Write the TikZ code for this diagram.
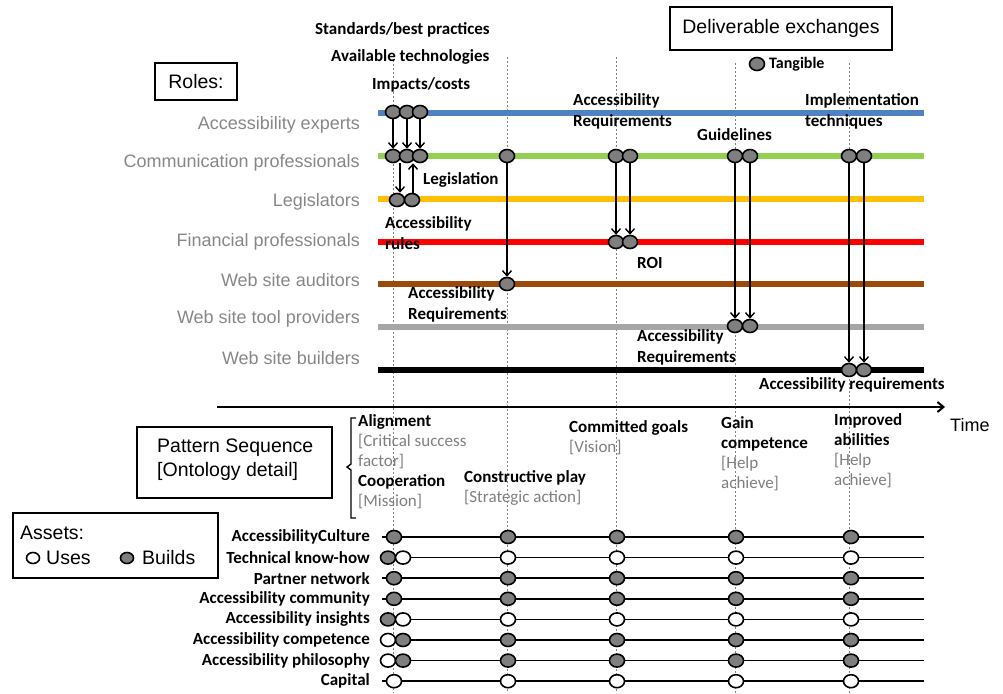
\documentclass[tikz,border=0pt]{standalone}
\usepackage{fontspec}
\setmainfont{Liberation Sans}
\newfontfamily\carl{Carlito}
\usetikzlibrary{shapes.geometric,arrows.meta}
\definecolor{rolegray}{HTML}{878787}
\definecolor{notegray}{HTML}{7F7F7F}
\definecolor{circgray}{HTML}{7F7F7F}
\definecolor{lblue}{HTML}{4F81C4}
\definecolor{lgreen}{HTML}{92D050}
\definecolor{lyellow}{HTML}{FFC000}
\definecolor{lred}{HTML}{FF0000}
\definecolor{lbrown}{HTML}{9C4A0C}
\definecolor{lgray}{HTML}{A6A6A6}
\tikzset{
  role/.style={anchor=east,inner sep=0pt,text=rolegray,font=\fontsize{18}{21}\selectfont},
  lbl/.style={anchor=west,inner sep=0pt,align=left,font=\carl\bfseries\fontsize{17}{21}\selectfont},
  pat/.style={anchor=west,inner sep=0pt,align=left,font=\carl\fontsize{17}{20}\selectfont},
  asl/.style={anchor=east,inner sep=0pt,font=\carl\bfseries\fontsize{17}{20}\selectfont},
  dlv/.style={ellipse,draw=black,line width=1.6pt,fill=circgray,minimum width=15pt,minimum height=13pt,inner sep=0pt},
  ause/.style={dlv,fill=white},
  arr/.style={-{Straight Barb[length=5pt,width=9pt]},line width=1.4pt},
  guide/.style={draw=gray,dash pattern=on 2pt off 2pt,line width=0.8pt},
  rline/.style={line width=6pt},
  aline/.style={line width=1.6pt},
  boxed/.style={draw=black,line width=1.5pt,inner sep=0pt},
  big/.style={font=\fontsize{19.5}{24}\selectfont}
}
\begin{document}
\begin{tikzpicture}[x=1pt,y=-1pt]
\useasboundingbox (0,0) rectangle (1003,693);
% guide lines
\draw[guide] (393,60) -- (393,693);
\draw[guide] (507,57) -- (507,693);
\draw[guide] (616,57) -- (616,693);
\draw[guide] (735,63) -- (735,693);
\draw[guide] (849,63) -- (849,693);
% role lines
\draw[rline,lblue] (378,113) -- (924,113);
\draw[rline,lgreen] (378,156) -- (924,156);
\draw[rline,lyellow] (378,199) -- (924,199);
\draw[rline,lred] (378,242) -- (924,242);
\draw[rline,lbrown] (378,284) -- (924,284);
\draw[rline,lgray] (378,327) -- (924,327);
\draw[rline,black] (378,370) -- (924,370);
% role labels
\node[role] (r1) at (360,125) {Accessibility experts};
\node[role] (r2) at (360,163) {Communication professionals};
\node[role] (r3) at (360,202) {Legislators};
\node[role] (r4) at (360,242) {Financial professionals};
\node[role] (r5) at (360,280) {Web site auditors};
\node[role] (r6) at (360,319) {Web site tool providers};
\node[role] (r7) at (360,358) {Web site builders};
% deliverables
\node[dlv] (e1) at (393,112) {};
\node[dlv] (e2) at (407,112) {};
\node[dlv] (e3) at (420,112) {};
\node[dlv] (c1) at (393,156) {};
\node[dlv] (c2) at (407,156) {};
\node[dlv] (c3) at (420,156) {};
\node[dlv] (c4) at (507,156) {};
\node[dlv] (c5) at (616,156) {};
\node[dlv] (c6) at (630,156) {};
\node[dlv] (c7) at (735,156) {};
\node[dlv] (c8) at (750,156) {};
\node[dlv] (c9) at (849,156) {};
\node[dlv] (c10) at (864,156) {};
\node[dlv] (l1) at (397,200) {};
\node[dlv] (l2) at (412,200) {};
\node[dlv] (f1) at (616,242) {};
\node[dlv] (f2) at (630,242) {};
\node[dlv] (a1) at (507,284) {};
\node[dlv] (t1) at (735,326) {};
\node[dlv] (t2) at (750,326) {};
\node[dlv] (b1) at (849,370) {};
\node[dlv] (b2) at (864,370) {};
% exchange arrows
\draw[arr] (e1) -- (c1);
\draw[arr] (e2) -- (c2);
\draw[arr] (e3) -- (c3);
\draw[arr] ([xshift=7pt]c1.south) -- ([xshift=3pt]l1.north);
\draw[arr] ([xshift=1pt]l2.north) -- ([xshift=-7pt]c3.south);
\draw[arr] (c4) -- (a1);
\draw[arr] (c5) -- (f1);
\draw[arr] (c6) -- (f2);
\draw[arr] (c7) -- (t1);
\draw[arr] (c8) -- (t2);
\draw[arr] (c9) -- (b1);
\draw[arr] (c10) -- (b2);
% deliverable labels
\node[lbl] (d1) at (315,30) {Standards/best practices};
\node[lbl] (d2) at (331,57) {Available technologies};
\node[lbl] (d3) at (372,85) {Impacts/costs};
\node[lbl] (d4) at (423,180) {Legislation};
\node[lbl] (d5) at (385,233) {Accessibility\\rules};
\node[lbl] (d6) at (408,304.5) {Accessibility\\Requirements};
\node[lbl] (d7) at (573,111) {Accessibility\\Requirements};
\node[lbl] (d8) at (697,135) {Guidelines};
\node[lbl] (d9) at (805,111) {Implementation\\techniques};
\node[lbl] (d10) at (637,263) {ROI};
\node[lbl] (d11) at (637,347) {Accessibility\\Requirements};
\node[lbl] (d12) at (759,385) {Accessibility requirements};
% boxes
\node[boxed,big,minimum width=222pt,minimum height=43pt] (dx) at (781,28.5) {Deliverable exchanges};
\node[dlv] (tg) at (757,64) {};
\node[lbl,font=\carl\bfseries\fontsize{16}{19}\selectfont] (tgl) at (769,64) {Tangible};
\node[boxed,big,minimum width=82pt,minimum height=37pt] (roles) at (196,81.5) {Roles:};
% time axis
\coordinate (t0) at (217,407);
\coordinate (t9) at (945,407);
\draw[line width=2pt,-{Straight Barb[length=6pt,width=10pt]}] (t0) -- (t9);
\node[anchor=west,inner sep=0pt,font=\fontsize{18}{21}\selectfont] (time) at (950,425) {Time};
% pattern sequence
\draw[line width=1.5pt] (137,427) rectangle (332,498);
\node[anchor=west,inner sep=0pt,align=left,big] (ps) at (157,460) {Pattern Sequence\\{}[Ontology detail]};
\draw[line width=1.4pt] (356,418) -- (351,418) -- (351,464) -- (347,467) -- (351,470) -- (351,518) -- (356,518);
\node[pat] (p1) at (358,461.5) {\textbf{Alignment}\\\textcolor{notegray}{[Critical success}\\\textcolor{notegray}{factor]}\\\textbf{Cooperation}\\\textcolor{notegray}{[Mission]}};
\node[pat] (p2) at (464,488) {\textbf{Constructive play}\\\textcolor{notegray}{[Strategic action]}};
\node[pat] (p3) at (569,438) {\textbf{Committed goals}\\\textcolor{notegray}{[Vision]}};
\node[pat] (p4) at (721,454) {\textbf{Gain}\\\textbf{competence}\\\textcolor{notegray}{[Help}\\\textcolor{notegray}{achieve]}};
\node[pat] (p5) at (834,451) {\textbf{Improved}\\\textbf{abilities}\\\textcolor{notegray}{[Help}\\\textcolor{notegray}{achieve]}};
% assets legend
\draw[line width=1.5pt] (13,513) rectangle (218,578);
\node[anchor=west,inner sep=0pt,big] (as) at (20,533) {Assets:};
\node[ause,minimum width=13pt,minimum height=11pt] (lu) at (33,558) {};
\node[anchor=west,inner sep=0pt,big] (lut) at (46,558) {Uses};
\node[dlv,minimum width=13pt,minimum height=11pt] (lb) at (127,558) {};
\node[anchor=west,inner sep=0pt,big] (lbt) at (142,558) {Builds};
% asset rows
\foreach \y/\name/\first/\rest [count=\i] in {
  537/AccessibilityCulture/{394/dlv}/dlv,
  557.6/Technical know-how/{388/dlv,403/ause}/ause,
  578.2/Partner network/{394/dlv}/dlv,
  598.8/Accessibility community/{394/dlv}/dlv,
  619.4/Accessibility insights/{388/dlv,403/ause}/ause,
  640/Accessibility competence/{388/ause,403/dlv}/dlv,
  660.6/Accessibility philosophy/{388/ause,403/dlv}/dlv,
  681.2/Capital/{394/ause}/ause}{
  \draw[aline] (382,\y) -- (924,\y);
  \node[asl] (al\i) at (370,\y) {\name};
  \foreach \px/\st in \first { \node[\st] (a\i f\px) at (\px,\y) {}; }
  \foreach \xx [count=\j] in {508,617,736,851}{ \node[\rest] (a\i c\j) at (\xx,\y) {}; }
}
\end{tikzpicture}
\end{document}
